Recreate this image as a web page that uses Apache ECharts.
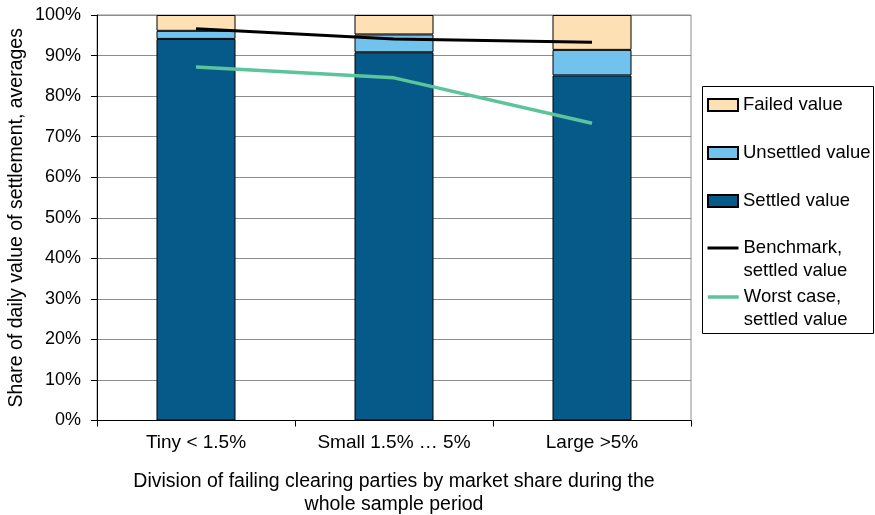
<!DOCTYPE html>
<html>
<head>
<meta charset="utf-8">
<script src="https://cdn.jsdelivr.net/npm/echarts@6/dist/echarts.min.js"></script>
<style>html,body{margin:0;padding:0;background:#fff}#c{width:875px;height:515px}</style>
</head>
<body>
<div id="c"></div>
<script>
var categories = ['Tiny < 1.5%', 'Small 1.5% … 5%', 'Large >5%'];
var settledValue = [94.1, 90.8, 85.1];
var unsettledValue = [2.0, 4.4, 6.3];
var failedValue = [3.9, 4.8, 8.6];
var benchmarkSettled = [96.6, 94.1, 93.3];
var worstCaseSettled = [87.2, 84.5, 73.3];
var yTicks = [0, 10, 20, 30, 40, 50, 60, 70, 80, 90, 100];

var FONT = '"Liberation Sans", Arial, sans-serif';
var chart = echarts.init(document.getElementById('c'), null, {renderer: 'canvas'});
var legText = {fontFamily: FONT, fontSize: 18.5, color: '#000', lineHeight: 22};
var legText2 = {fontFamily: FONT, fontSize: 18.5, color: '#000', lineHeight: 23};
var twoLine = function (name) { return ' \n' + name; };
var noSymbol = {color: 'rgba(0,0,0,0)', borderWidth: 0};
chart.setOption({
  animation: false,
  textStyle: {fontFamily: FONT},
  grid: {left: 97, right: 184, top: 15, bottom: 94.5, containLabel: false, outerBoundsMode: 'none',
         show: true, borderColor: '#8c8c8c', borderWidth: 1},
  graphic: [{
    type: 'rect', shape: {x: 702.5, y: 86.5, width: 171, height: 247},
    style: {fill: 'none', stroke: '#000', lineWidth: 1}, z: 0
  }],
  legend: [
    {data: [{name: 'Failed value', icon: 'rect'}, {name: 'Unsettled value', icon: 'rect'}, {name: 'Settled value', icon: 'rect'}],
     orient: 'vertical', left: 707, top: 94,
     padding: 0, itemGap: 26, itemWidth: 30, itemHeight: 12, itemTextGap: 2, selectedMode: false, textStyle: legText},
    {data: ['Benchmark,\nsettled value'], orient: 'vertical', left: 706, top: 213.5, formatter: twoLine,
     itemStyle: noSymbol, lineStyle: {width: 3},
     padding: 0, itemWidth: 31, itemHeight: 12, itemTextGap: 2, selectedMode: false, textStyle: legText2},
    {data: ['Worst case,\nsettled value'], orient: 'vertical', left: 706, top: 262.5, formatter: twoLine,
     itemStyle: noSymbol, lineStyle: {width: 3.5},
     padding: 0, itemWidth: 31, itemHeight: 12, itemTextGap: 2, selectedMode: false, textStyle: legText2}
  ],
  xAxis: {
    type: 'category', data: categories,
    axisLine: {lineStyle: {color: '#000', width: 1}},
    axisTick: {show: true, length: 6, interval: 0, lineStyle: {color: '#000'}},
    axisLabel: {fontFamily: FONT, fontSize: 19, color: '#000', margin: 13, interval: 0, hideOverlap: false},
    name: 'Division of failing clearing parties by market share during the\nwhole sample period',
    nameLocation: 'middle', nameGap: 50, nameMoveOverlap: false,
    nameTextStyle: {fontFamily: FONT, fontSize: 19.5, color: '#000', lineHeight: 23, align: 'center'}
  },
  yAxis: {
    type: 'value', min: yTicks[0], max: yTicks[yTicks.length - 1], interval: 10,
    axisLine: {show: true, lineStyle: {color: '#000', width: 1}},
    axisTick: {show: true, length: 6, lineStyle: {color: '#000'}},
    axisLabel: {fontFamily: FONT, fontSize: 18, color: '#000', margin: 16, formatter: '{value}%'},
    splitLine: {show: true, lineStyle: {color: '#8c8c8c', width: 1}},
    name: 'Share of daily value of settlement, averages',
    nameLocation: 'middle', nameGap: 70, nameRotate: 90, nameMoveOverlap: false,
    nameTextStyle: {fontFamily: FONT, fontSize: 19.5, color: '#000'}
  },
  series: [
    {name: 'Settled value', type: 'bar', stack: 's', data: settledValue, barWidth: 79,
     itemStyle: {color: '#065a89', borderColor: '#000', borderWidth: 1}},
    {name: 'Unsettled value', type: 'bar', stack: 's', data: unsettledValue, barWidth: 79,
     itemStyle: {color: '#71c2ec', borderColor: '#000', borderWidth: 1}},
    {name: 'Failed value', type: 'bar', stack: 's', data: failedValue, barWidth: 79,
     itemStyle: {color: '#fde0b3', borderColor: '#000', borderWidth: 1}},
    {name: 'Benchmark,\nsettled value', type: 'line', data: benchmarkSettled, symbol: 'none',
     lineStyle: {color: '#000', width: 3}, itemStyle: {color: '#000'}, z: 5},
    {name: 'Worst case,\nsettled value', type: 'line', data: worstCaseSettled, symbol: 'none',
     lineStyle: {color: '#5cc49b', width: 3.5}, itemStyle: {color: '#5cc49b'}, z: 5}
  ]
});
</script>
</body>
</html>
